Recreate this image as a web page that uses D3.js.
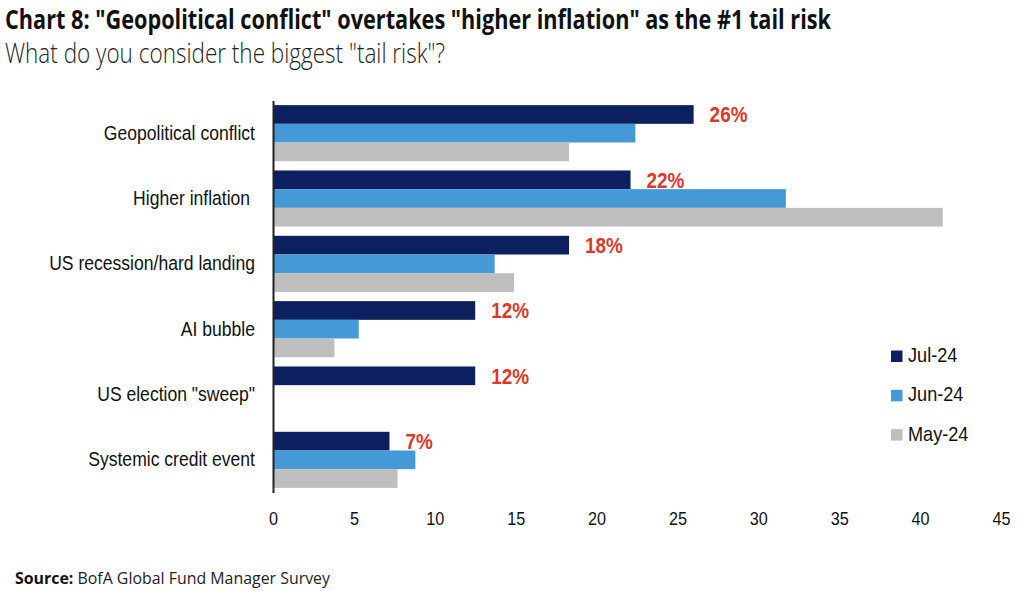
<!DOCTYPE html>
<html>
<head>
<meta charset="utf-8">
<script src="https://cdn.jsdelivr.net/npm/d3@7"></script>
<style>
  html, body { margin: 0; padding: 0; background: #fff; }
  svg { display: block; }
</style>
</head>
<body>
<svg id="chart" width="1024" height="591"></svg>
<script>
// ---- Data ----
const categories = [
  "Geopolitical conflict",
  "Higher inflation ",
  "US recession/hard landing",
  "AI bubble",
  "US election \"sweep\"",
  "Systemic credit event"
];
const seriesNames = ["Jul-24", "Jun-24", "May-24"];
const jul24 = [26, 22.1, 18.3, 12.5, 12.5, 7.2];
const jun24 = [22.4, 31.7, 13.7, 5.3, null, 8.8];
const may24 = [18.3, 41.4, 14.9, 3.8, null, 7.7];
const julLabels = ["26%", "22%", "18%", "12%", "12%", "7%"];
const xTicks = [0, 5, 10, 15, 20, 25, 30, 35, 40, 45];

const titleText = "Chart 8: \"Geopolitical conflict\" overtakes \"higher inflation\" as the #1 tail risk";
const subtitleText = "What do you consider the biggest \"tail risk\"?";
const sourceBold = "Source:";
const sourceRest = " BofA Global Fund Manager Survey";

// ---- Styles ----
const colors = { "Jul-24": "#0c1f5e", "Jun-24": "#4499d6", "May-24": "#bebebe" };
const red = "#d63a2b";
const chartFont = "'Liberation Sans', Arial, sans-serif";
const condense = 0.9;

const svg = d3.select("#chart");

const seriesValues = { "Jul-24": jul24, "Jun-24": jun24, "May-24": may24 };
const rows = categories.map((c, i) => ({
  cat: c,
  label: julLabels[i],
  values: seriesNames.map(s => ({ series: s, value: seriesValues[s][i] }))
}));

// ---- Scales ----
const x = d3.scaleLinear().domain([0, 45]).range([273, 1001]);
const y = d3.scaleBand().domain(categories).range([100.5, 492.5])
  .paddingInner(0.142).paddingOuter(0.071);
const ySub = d3.scaleBand().domain(seriesNames).range([0, y.bandwidth()]).padding(0);

// ---- Title ----
svg.append("text")
  .attr("x", 5).attr("y", 29)
  .attr("font-family", "'Open Sans', sans-serif")
  .attr("font-weight", 700)
  .attr("font-size", 26)
  .attr("fill", "#111")
  .attr("textLength", 826)
  .attr("lengthAdjust", "spacingAndGlyphs")
  .text(titleText);

svg.append("text")
  .attr("x", 5).attr("y", 63)
  .attr("font-family", "'Open Sans', sans-serif")
  .attr("font-weight", 300)
  .attr("font-size", 27)
  .attr("fill", "#222")
  .attr("textLength", 440)
  .attr("lengthAdjust", "spacingAndGlyphs")
  .text(subtitleText);

// ---- Bars ----
const groups = svg.append("g").selectAll("g.grp")
  .data(rows).join("g")
  .attr("class", "grp")
  .attr("transform", d => `translate(0,${y(d.cat)})`);

groups.selectAll("rect")
  .data(d => d.values.filter(v => v.value != null))
  .join("rect")
  .attr("x", x(0))
  .attr("y", v => ySub(v.series))
  .attr("width", v => x(v.value) - x(0))
  .attr("height", ySub.bandwidth())
  .attr("fill", v => colors[v.series]);

// Data labels for Jul-24
groups.append("text")
  .attr("transform", d => `translate(${x(d.values[0].value) + 16},${ySub("Jul-24") + ySub.bandwidth() / 2 + 8}) scale(0.86,1)`)
  .attr("font-family", chartFont)
  .attr("font-weight", 700)
  .attr("font-size", 22)
  .attr("fill", red)
  .text(d => d.label);

// ---- Y axis ----
const yAxis = svg.append("g")
  .attr("transform", `translate(${x(0)},0)`)
  .call(d3.axisLeft(y).tickSize(0).tickSizeOuter(0).tickPadding(0));
yAxis.select(".domain").attr("stroke", "#222").attr("stroke-width", 2);
yAxis.selectAll(".tick text")
  .attr("x", null)
  .attr("dy", "0.33em")
  .attr("transform", `translate(-18,0) scale(${condense},1)`)
  .attr("font-family", chartFont)
  .attr("font-size", 19.5)
  .attr("fill", "#111")
  .style("white-space", "pre");

// ---- X axis ----
const xAxis = svg.append("g")
  .attr("transform", `translate(0,492.5)`)
  .call(d3.axisBottom(x).tickValues(xTicks).tickFormat(d3.format("d")).tickSize(0).tickSizeOuter(0));
xAxis.select(".domain").remove();
xAxis.selectAll(".tick text")
  .attr("y", 32.5)
  .attr("dy", null)
  .attr("transform", `scale(${condense},1)`)
  .attr("font-family", chartFont)
  .attr("font-size", 18)
  .attr("fill", "#111");

// ---- Legend ----
const legend = svg.append("g").selectAll("g")
  .data(seriesNames).join("g")
  .attr("transform", (d, i) => `translate(891,${362 + i * 39.3})`);
legend.append("rect")
  .attr("x", 0).attr("y", -11.5)
  .attr("width", 11.5).attr("height", 11.5)
  .attr("fill", d => colors[d]);
legend.append("text")
  .attr("transform", `translate(17,0) scale(0.93,1)`)
  .attr("font-family", chartFont)
  .attr("font-size", 19.5)
  .attr("fill", "#111")
  .text(d => d);

// ---- Source ----
const src = svg.append("text")
  .attr("x", 15).attr("y", 583.5)
  .attr("font-family", "'Open Sans', sans-serif")
  .attr("font-size", 16.5)
  .attr("fill", "#222")
  .attr("textLength", 315)
  .attr("lengthAdjust", "spacingAndGlyphs");
src.append("tspan").attr("font-weight", 700).attr("fill", "#111").text(sourceBold);
src.append("tspan").attr("font-weight", 400).style("white-space", "pre").text(sourceRest);
</script>
</body>
</html>
